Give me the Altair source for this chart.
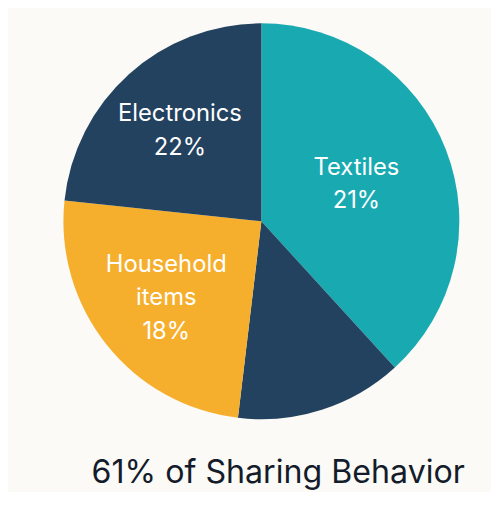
import altair as alt
import pandas as pd

categories = ["Textiles", "Other", "Household items", "Electronics"]
shares = [137.6, 49.2, 89.2, 84.0]  # visual slice sizes
labels = ["Textiles\n21%", "", "Household\nitems\n18%", "Electronics\n22%"]
order = [1, 2, 3, 4]
colors = ["#19AAB1", "#22425F", "#F6AE2D", "#22425F"]

df = pd.DataFrame({"category": categories, "share": shares, "label": labels, "order": order})

base = alt.Chart(df).encode(
    theta=alt.Theta("share:Q", stack=True),
    order=alt.Order("order:Q"),
)

pie = base.mark_arc(outerRadius=200, stroke=None).encode(
    color=alt.Color("category:N", scale=alt.Scale(domain=categories, range=colors), legend=None)
)

text = base.mark_text(
    radius={"expr": "datum.category == 'Textiles' ? 103 : 123"},
    dy={"expr": "datum.category == 'Household items' ? -33 : -17"},
    fontSize=24,
    font="Inter",
    color="white",
    lineBreak="\n",
    lineHeight=34,
    baseline="middle",
    align="center",
).encode(text="label:N")

chart = alt.layer(pie, text).properties(
    width=400,
    height=400,
    padding={"left": 56, "top": 13, "right": 26, "bottom": 0},
    background="#FBFAF6",
    title=alt.TitleParams(
        "61% of Sharing Behavior",
        orient="bottom",
        anchor="middle",
        dx=17,
        offset=38,
        fontSize=32.5,
        font="Inter",
        fontWeight="normal",
        color="#141C2B",
    ),
).configure_view(stroke=None)

chart.save("out.html", embed_options={"renderer": "svg", "actions": False})
